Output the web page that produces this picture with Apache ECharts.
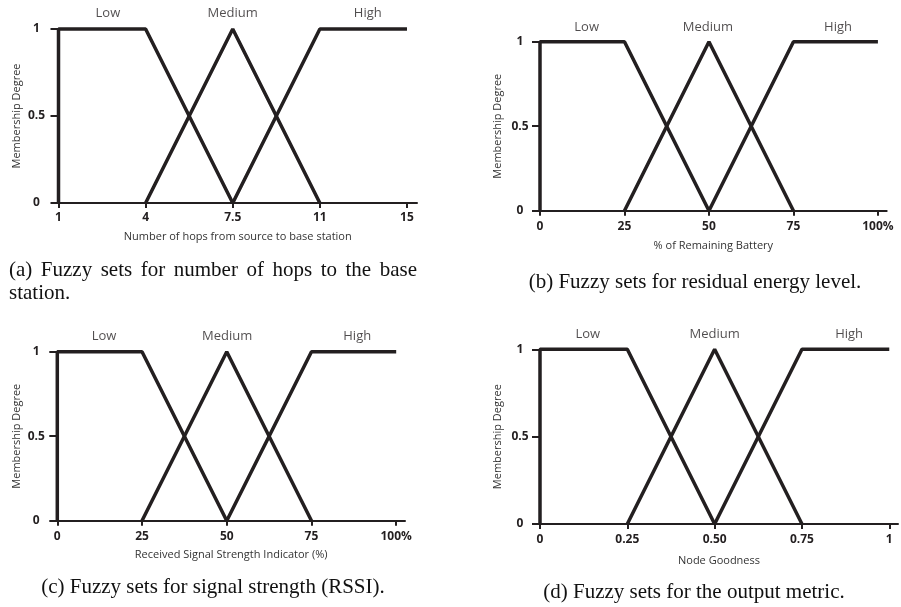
<!DOCTYPE html>
<html>
<head>
<meta charset="utf-8">
<script src="https://cdn.jsdelivr.net/npm/echarts@6/dist/echarts.min.js"></script>
<style>
  body { margin: 0; background: #fff; }
  #chart { position: absolute; left: 0; top: 0; width: 901px; height: 607px; }
  .caption {
    position: absolute;
    font-family: "Liberation Serif", "DejaVu Serif", serif;
    font-size: 21px;
    line-height: 23px;
    color: #111;
  }
</style>
</head>
<body>
<div id="chart"></div>
<div class="caption" style="left:9px; top:258px; width:408px; text-align:justify;">(a) Fuzzy sets for number of hops to the base station.</div>
<div class="caption" style="left:490px; top:270px; width:410px; text-align:center;">(b) Fuzzy sets for residual energy level.</div>
<div class="caption" style="left:8px; top:575px; width:410px; text-align:center;">(c) Fuzzy sets for signal strength (RSSI).</div>
<div class="caption" style="left:489px; top:580px; width:410px; text-align:center;">(d) Fuzzy sets for the output metric.</div>
<script>
// nhãn các tập mờ
const setNames = ['Low', 'Medium', 'High'];
const yTicks = [0, 0.5, 1];

// (a) số hop
const hopTicks = [1, 4, 7.5, 11, 15];
const hopLow = [[1, 0], [1, 1], [4, 1], [7.5, 0]];
const hopMedium = [[4, 0], [7.5, 1], [11, 0]];
const hopHigh = [[7.5, 0], [11, 1], [15, 1]];
const hopNameX = [2.7, 7.5, 13.2];

// (b) pin còn lại
const batteryTicks = [0, 25, 50, 75, 100];
const batteryTickLabels = ['0', '25', '50', '75', '100%'];
const batteryLow = [[0, 0], [0, 1], [25, 1], [50, 0]];
const batteryMedium = [[25, 0], [50, 1], [75, 0]];
const batteryHigh = [[50, 0], [75, 1], [100, 1]];
const batteryNameX = [13.8, 49.7, 88.2];

// (c) RSSI
const rssiTicks = [0, 25, 50, 75, 100];
const rssiTickLabels = ['0', '25', '50', '75', '100%'];
const rssiLow = [[0, 0], [0, 1], [25, 1], [50, 0]];
const rssiMedium = [[25, 0], [50, 1], [75, 0]];
const rssiHigh = [[50, 0], [75, 1], [100, 1]];
const rssiNameX = [13.8, 50.1, 88.5];

// (d) node goodness
const goodTicks = [0, 0.25, 0.5, 0.75, 1];
const goodTickLabels = ['0', '0.25', '0.50', '0.75', '1'];
const goodLow = [[0, 0], [0, 1], [0.25, 1], [0.5, 0]];
const goodMedium = [[0.25, 0], [0.5, 1], [0.75, 0]];
const goodHigh = [[0.5, 0], [0.75, 1], [1, 1]];
const goodNameX = [0.137, 0.5, 0.885];

const ink = '#231f20';
const font = '"Open Sans", "DejaVu Sans", sans-serif';

// trục (a) không tuyến tính: các tick cách đều nhau
function hopPos(v) {
    for (let i = 0; i < hopTicks.length - 1; i++) {
        if (v <= hopTicks[i + 1]) {
            return i + (v - hopTicks[i]) / (hopTicks[i + 1] - hopTicks[i]);
        }
    }
    return hopTicks.length - 1;
}
const mapHop = pts => pts.map(p => [hopPos(p[0]), p[1]]);

const panels = [
    {
        grid: { left: 58.5, top: 29, width: 358.5, height: 174 },
        min: 0, max: 4.115,
        ticks: [0, 1, 2, 3, 4], labels: hopTicks.map(String),
        xName: 'Number of hops from source to base station',
        labelMargin: 9, nameGap: 28, yNameGap: 36, yLabelMargin: 22, setDist: 9,
        sets: [mapHop(hopLow), mapHop(hopMedium), mapHop(hopHigh)],
        nameX: hopNameX.map(hopPos)
    },
    {
        grid: { left: 540, top: 41.7, width: 346.7, height: 169 },
        min: 0, max: 102.6,
        ticks: batteryTicks, labels: batteryTickLabels,
        xName: '% of Remaining Battery',
        labelMargin: 10, nameGap: 30, yNameGap: 37, yLabelMargin: 20, setDist: 8,
        sets: [batteryLow, batteryMedium, batteryHigh],
        nameX: batteryNameX
    },
    {
        grid: { left: 57.3, top: 351.7, width: 347.7, height: 169 },
        min: 0, max: 102.6,
        ticks: rssiTicks, labels: rssiTickLabels,
        xName: 'Received Signal Strength Indicator (%)',
        labelMargin: 10, nameGap: 29, yNameGap: 35, yLabelMargin: 21, setDist: 9,
        sets: [rssiLow, rssiMedium, rssiHigh],
        nameX: rssiNameX
    },
    {
        grid: { left: 540, top: 349.3, width: 358, height: 174.7 },
        min: 0, max: 1.025,
        ticks: goodTicks, labels: goodTickLabels,
        xName: 'Node Goodness',
        labelMargin: 10, nameGap: 31, yNameGap: 37, yLabelMargin: 20, setDist: 9,
        sets: [goodLow, goodMedium, goodHigh],
        nameX: goodNameX
    }
];

const option = {
    animation: false,
    backgroundColor: '#fff',
    grid: [], xAxis: [], yAxis: [], series: []
};

panels.forEach((p, i) => {
    option.grid.push(p.grid);
    option.xAxis.push({
        type: 'value', gridIndex: i, min: p.min, max: p.max,
        name: p.xName, nameLocation: 'middle', nameGap: p.nameGap,
        nameTextStyle: { fontFamily: font, fontSize: 11, color: '#333' },
        axisLine: { lineStyle: { color: ink, width: 2 } },
        axisTick: { customValues: p.ticks, length: 5, lineStyle: { color: ink, width: 2 } },
        axisLabel: {
            customValues: p.ticks, margin: p.labelMargin,
            fontFamily: font, fontSize: 12, fontWeight: 'bold', color: ink,
            formatter: v => p.labels[p.ticks.indexOf(v)]
        },
        splitLine: { show: false }
    });
    option.yAxis.push({
        type: 'value', gridIndex: i, min: 0, max: 1, interval: 0.5,
        name: 'Membership Degree', nameLocation: 'middle', nameGap: p.yNameGap,
        nameTextStyle: { fontFamily: font, fontSize: 11, color: '#333' },
        axisLine: { show: true, lineStyle: { color: ink, width: 2 } },
        axisTick: { show: true, length: 8, lineStyle: { color: ink, width: 2 } },
        axisLabel: {
            margin: p.yLabelMargin, align: 'center',
            fontFamily: font, fontSize: 12, fontWeight: 'bold', color: ink,
            formatter: v => String(yTicks[yTicks.indexOf(v)])
        },
        splitLine: { show: false }
    });
    p.sets.forEach((data, k) => {
        option.series.push({
            type: 'line', name: setNames[k], xAxisIndex: i, yAxisIndex: i,
            data: data, symbol: 'none', clip: false,
            lineStyle: { color: ink, width: 3.5 }
        });
    });
    option.series.push({
        type: 'scatter', xAxisIndex: i, yAxisIndex: i,
        symbolSize: 0, silent: true, clip: false,
        data: p.nameX.map((x, k) => ({ value: [x, 1], name: setNames[k] })),
        label: {
            show: true, position: 'top', distance: p.setDist,
            formatter: '{b}', fontFamily: font, fontSize: 13, color: ink
        }
    });
});

const chart = echarts.init(document.getElementById('chart'));
chart.setOption(option);
</script>
</body>
</html>
